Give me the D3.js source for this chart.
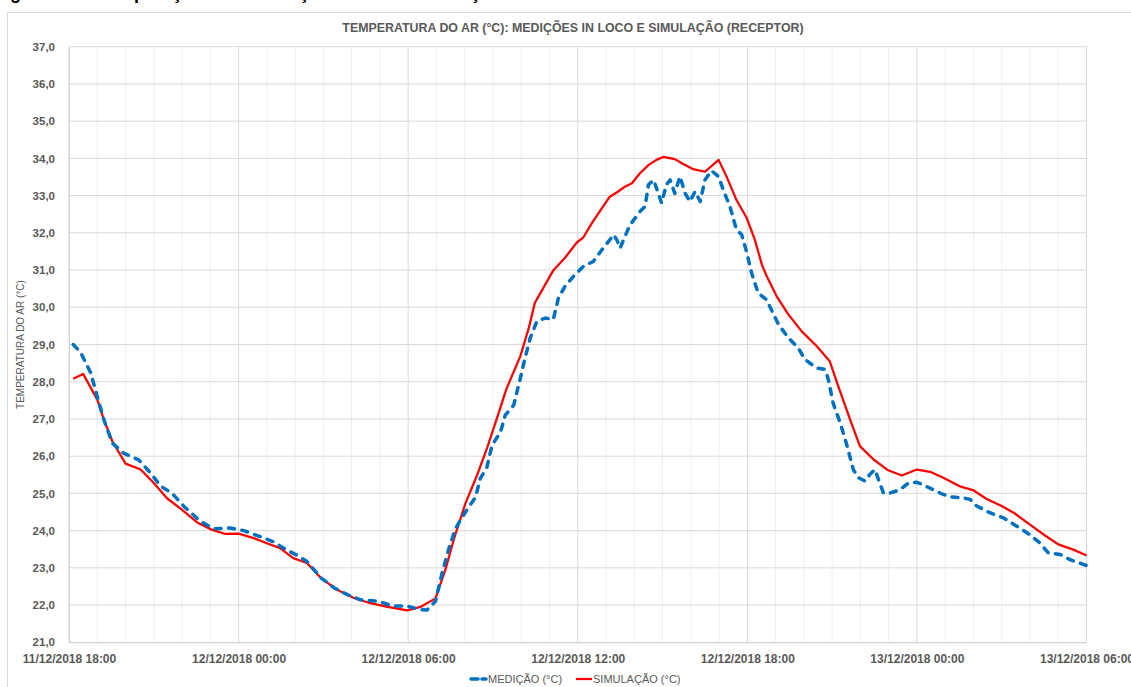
<!DOCTYPE html>
<html lang="pt">
<head>
<meta charset="UTF-8">
<title>Temperatura do ar: medições in loco e simulação</title>
<script src="https://cdn.jsdelivr.net/npm/d3@7"></script>
<style>
    body { margin: 0; background: #fff; font-family: "Liberation Sans", Arial, sans-serif; }
    svg { display: block; font-family: "Liberation Sans", Arial, sans-serif; }
</style>
</head>
<body>
<svg id="chart" width="1131" height="687"></svg>
<script>
// medição (°C) - leitura do gráfico
const medTimes = [
    "11/12 18:09", "11/12 18:25", "11/12 18:46", "11/12 19:00", "11/12 19:14", "11/12 19:32", "11/12 19:56",
    "11/12 20:28", "11/12 20:53", "11/12 21:14", "11/12 21:39", "11/12 22:04", "11/12 22:39", "11/12 23:07",
    "11/12 23:42", "12/12 00:11", "12/12 00:46", "12/12 01:14", "12/12 01:42", "12/12 02:07", "12/12 02:25",
    "12/12 02:55", "12/12 03:23", "12/12 03:51", "12/12 04:19", "12/12 04:58", "12/12 05:26", "12/12 05:58",
    "12/12 06:26", "12/12 06:40", "12/12 06:58", "12/12 07:12", "12/12 07:26", "12/12 07:40", "12/12 07:54",
    "12/12 08:08", "12/12 08:23", "12/12 08:33", "12/12 08:47", "12/12 08:58", "12/12 09:16", "12/12 09:26",
    "12/12 09:44", "12/12 09:58", "12/12 10:08", "12/12 10:19", "12/12 10:33", "12/12 10:51", "12/12 11:08",
    "12/12 11:19", "12/12 11:33", "12/12 11:51", "12/12 12:12", "12/12 12:33", "12/12 12:51", "12/12 13:08",
    "12/12 13:16", "12/12 13:23", "12/12 13:30", "12/12 13:40", "12/12 13:51", "12/12 14:12", "12/12 14:23",
    "12/12 14:30", "12/12 14:41", "12/12 14:51", "12/12 14:58", "12/12 15:08", "12/12 15:16", "12/12 15:26",
    "12/12 15:37", "12/12 15:48", "12/12 15:58", "12/12 16:09", "12/12 16:20", "12/12 16:30", "12/12 16:44",
    "12/12 16:59", "12/12 17:09", "12/12 17:23", "12/12 17:37", "12/12 17:48", "12/12 17:59", "12/12 18:09",
    "12/12 18:23", "12/12 18:41", "12/12 19:06", "12/12 19:27", "12/12 19:48", "12/12 20:02", "12/12 20:27",
    "12/12 20:45", "12/12 20:52", "12/12 21:02", "12/12 21:17", "12/12 21:31", "12/12 21:45", "12/12 21:56",
    "12/12 22:10", "12/12 22:20", "12/12 22:31", "12/12 22:41", "12/12 22:49", "12/12 23:03", "12/12 23:24",
    "12/12 23:42", "13/12 00:00", "13/12 00:20", "13/12 00:49", "13/12 01:10", "13/12 01:38", "13/12 01:53",
    "13/12 02:07", "13/12 02:35", "13/12 03:04", "13/12 03:32", "13/12 04:00", "13/12 04:21", "13/12 04:39",
    "13/12 05:04", "13/12 05:25", "13/12 06:00"
];
const medValues = [
    29.0, 28.78, 28.24, 27.6, 26.98, 26.35, 26.08,
    25.9, 25.55, 25.2, 25.0, 24.65, 24.25, 24.05,
    24.07, 24.0, 23.84, 23.7, 23.48, 23.32, 23.17,
    22.73, 22.46, 22.28, 22.14, 22.1, 21.98, 21.97,
    21.88, 21.87, 22.1, 22.86, 23.5, 24.04, 24.35,
    24.62, 24.9, 25.4, 25.7, 26.29, 26.65, 27.1,
    27.37, 28.09, 28.63, 29.17, 29.62, 29.71, 29.67,
    30.25, 30.57, 30.83, 31.1, 31.23, 31.54, 31.81,
    31.95, 31.81, 31.59, 31.9, 32.21, 32.57, 32.71,
    33.29, 33.42, 33.06, 32.8, 33.29, 33.42, 33.06,
    33.51, 33.06, 32.84, 33.11, 32.84, 33.42, 33.67,
    33.51, 33.15, 32.71, 32.08, 31.95, 31.46, 30.92,
    30.38, 30.2, 29.54, 29.18, 28.91, 28.6, 28.37,
    28.33, 28.06, 27.43, 26.9, 26.31, 25.64, 25.42,
    25.33, 25.51, 25.64, 25.28, 25.01, 25.01, 25.1,
    25.28, 25.3, 25.19, 25.01, 24.91, 24.88, 24.84,
    24.66, 24.48, 24.34, 24.12, 23.89, 23.67, 23.4,
    23.36, 23.22, 23.06
];

// simulação (°C)
const simTimes = [
    "11/12 18:09", "11/12 18:30", "11/12 19:00", "11/12 19:14", "11/12 19:32", "11/12 20:00", "11/12 20:32",
    "11/12 21:00", "11/12 21:28", "11/12 22:04", "11/12 22:32", "11/12 23:04", "11/12 23:32", "12/12 00:00",
    "12/12 00:32", "12/12 01:00", "12/12 01:28", "12/12 01:56", "12/12 02:25", "12/12 02:55", "12/12 03:29",
    "12/12 04:05", "12/12 04:40", "12/12 05:16", "12/12 05:58", "12/12 06:26", "12/12 06:58", "12/12 07:19",
    "12/12 07:37", "12/12 08:01", "12/12 08:26", "12/12 08:47", "12/12 09:08", "12/12 09:29", "12/12 09:58",
    "12/12 10:16", "12/12 10:29", "12/12 10:47", "12/12 11:08", "12/12 11:33", "12/12 11:58", "12/12 12:12",
    "12/12 12:30", "12/12 12:51", "12/12 13:08", "12/12 13:26", "12/12 13:40", "12/12 13:55", "12/12 14:12",
    "12/12 14:30", "12/12 14:47", "12/12 15:02", "12/12 15:26", "12/12 15:44", "12/12 16:05", "12/12 16:30",
    "12/12 16:59", "12/12 17:16", "12/12 17:37", "12/12 17:59", "12/12 18:16", "12/12 18:31", "12/12 18:41",
    "12/12 19:02", "12/12 19:27", "12/12 19:55", "12/12 20:27", "12/12 20:55", "12/12 21:13", "12/12 21:38",
    "12/12 21:59", "12/12 22:28", "12/12 22:59", "12/12 23:28", "13/12 00:00", "13/12 00:28", "13/12 00:56",
    "13/12 01:31", "13/12 01:59", "13/12 02:28", "13/12 03:00", "13/12 03:28", "13/12 04:00", "13/12 04:32",
    "13/12 05:00", "13/12 05:32", "13/12 06:00"
];
const simValues = [
    28.08, 28.21, 27.52, 26.98, 26.4, 25.8, 25.64,
    25.28, 24.87, 24.52, 24.22, 24.02, 23.91, 23.92,
    23.8, 23.66, 23.53, 23.26, 23.13, 22.73, 22.41,
    22.19, 22.05, 21.95, 21.86, 21.95, 22.18, 22.95,
    23.77, 24.71, 25.48, 26.2, 27.0, 27.82, 28.68,
    29.44, 30.12, 30.52, 30.99, 31.33, 31.74, 31.88,
    32.26, 32.66, 32.97, 33.11, 33.24, 33.33, 33.6,
    33.82, 33.96, 34.04, 33.98, 33.85, 33.71, 33.64,
    33.96, 33.51, 32.88, 32.39, 31.81, 31.14, 30.84,
    30.3, 29.81, 29.36, 28.96, 28.55, 27.88, 26.99,
    26.27, 25.91, 25.62, 25.48, 25.64, 25.58, 25.42,
    25.19, 25.09, 24.85, 24.66, 24.46, 24.16, 23.87,
    23.63, 23.49, 23.33
];

const xDomain = ["11/12 18:00", "13/12 06:00"];
const yDomain = [21, 37];

const chartTitle = "TEMPERATURA DO AR (°C): MEDIÇÕES IN LOCO E SIMULAÇÃO (RECEPTOR)";
const yTitle = "TEMPERATURA DO AR (°C)";
const seriesNames = ["MEDIÇÃO (°C)", "SIMULAÇÃO (°C)"];
const captionText = "Figura 45 – Comparação entre medição in loco e simulação";

const parse = s => d3.timeParse("%d/%m/%Y %H:%M")(s.replace(" ", "/2018 "));
const ptBR = d3.formatLocale({ decimal: ",", thousands: ".", grouping: [3], currency: ["R$", ""] });

const svg = d3.select("#chart");
const margin = { left: 69, right: 1086.5, top: 46.7, bottom: 642.3 };

const x = d3.scaleTime().domain(xDomain.map(parse)).range([margin.left, margin.right]);
const y = d3.scaleLinear().domain(yDomain).range([margin.bottom, margin.top]);

// legenda da figura (cortada no topo da imagem)
svg.append("text")
    .attr("x", -6).attr("y", -1)
    .attr("font-size", 18).attr("font-weight", "bold").attr("fill", "#000")
    .text(captionText);

// moldura do gráfico
svg.append("rect")
    .attr("x", 7.5).attr("y", 12.5).attr("width", 1140).attr("height", 700)
    .attr("fill", "#fff").attr("stroke", "#d9d9d9");

// grades
svg.append("g").selectAll("line")
    .data(x.ticks(d3.timeHour.every(1)))
    .join("line")
    .attr("x1", d => x(d)).attr("x2", d => x(d))
    .attr("y1", margin.top).attr("y2", margin.bottom)
    .attr("stroke", d => d.getHours() % 6 === 0 ? "#d9d9d9" : "#efefef")
    .attr("stroke-width", 1);

svg.append("g").selectAll("line")
    .data(d3.range(yDomain[0], yDomain[1] + 1))
    .join("line")
    .attr("x1", margin.left).attr("x2", margin.right)
    .attr("y1", d => y(d)).attr("y2", d => y(d))
    .attr("stroke", "#d9d9d9").attr("stroke-width", 1);

// eixos
const yAxis = svg.append("g")
    .attr("transform", `translate(${margin.left},0)`)
    .call(d3.axisLeft(y).tickValues(d3.range(yDomain[0], yDomain[1] + 1)).tickFormat(ptBR.format(".1f")).tickSize(0).tickPadding(14));
yAxis.select(".domain").attr("stroke", "#d0d0d0");
yAxis.selectAll("text")
    .attr("font-family", "'Liberation Sans', Arial, sans-serif")
    .attr("font-size", 11.5).attr("font-weight", "bold").attr("fill", "#595959");

const xAxis = svg.append("g")
    .attr("transform", `translate(0,${margin.bottom})`)
    .call(d3.axisBottom(x).ticks(d3.timeHour.every(6)).tickFormat(d3.timeFormat("%d/%m/%Y %H:%M")).tickSize(0).tickPadding(12));
xAxis.select(".domain").attr("stroke", "#d0d0d0");
xAxis.selectAll("text")
    .attr("font-family", "'Liberation Sans', Arial, sans-serif")
    .attr("font-size", 12).attr("font-weight", "bold").attr("fill", "#595959");

// títulos
svg.append("text")
    .attr("x", 573).attr("y", 32).attr("text-anchor", "middle")
    .attr("font-size", 12.4).attr("font-weight", "bold").attr("fill", "#595959")
    .text(chartTitle);

svg.append("text")
    .attr("transform", `translate(24,${(margin.top + margin.bottom) / 2}) rotate(-90)`)
    .attr("text-anchor", "middle")
    .attr("font-size", 10).attr("fill", "#595959")
    .text(yTitle);

// séries
const line = d3.line().x(d => x(d.t)).y(d => y(d.v));
const med = medTimes.map((t, i) => ({ t: parse(t), v: medValues[i] }));
const sim = simTimes.map((t, i) => ({ t: parse(t), v: simValues[i] }));

svg.append("path")
    .datum(sim)
    .attr("fill", "none").attr("stroke", "#ff0000").attr("stroke-width", 2.25)
    .attr("stroke-linejoin", "round")
    .attr("d", line);

svg.append("path")
    .datum(med)
    .attr("fill", "none").attr("stroke", "#0070c0").attr("stroke-width", 3.5)
    .attr("stroke-dasharray", "6,7.5").attr("stroke-linecap", "round").attr("stroke-linejoin", "round")
    .attr("d", line);

// legenda
const legend = svg.append("g").attr("transform", "translate(0,679)");
legend.append("line")
    .attr("x1", 471).attr("x2", 486).attr("y1", 0).attr("y2", 0)
    .attr("stroke", "#0070c0").attr("stroke-width", 3.5)
    .attr("stroke-dasharray", "7,4").attr("stroke-linecap", "round");
legend.append("text")
    .attr("x", 488).attr("y", 4)
    .attr("font-size", 11).attr("fill", "#595959")
    .text(seriesNames[0]);
legend.append("line")
    .attr("x1", 576).attr("x2", 592).attr("y1", 0).attr("y2", 0)
    .attr("stroke", "#ff0000").attr("stroke-width", 2.25);
legend.append("text")
    .attr("x", 593).attr("y", 4)
    .attr("font-size", 11).attr("fill", "#595959")
    .text(seriesNames[1]);
</script>
</body>
</html>
